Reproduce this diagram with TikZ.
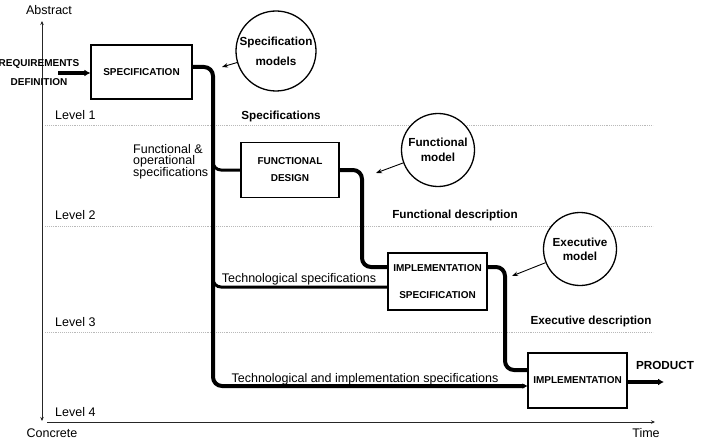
\documentclass[tikz,border=0pt]{standalone}
\usepackage{fontspec}
\setmainfont{Liberation Sans}
\usetikzlibrary{arrows.meta}
\pgfdeclarelayer{grid}
\pgfdeclarelayer{links}
\pgfsetlayers{grid,links,main}
\begin{document}
\begin{tikzpicture}[x=1pt,y=-1pt,
  box/.style={draw, line width=1.3pt, fill=white, inner sep=0pt, align=center,
    font=\bfseries\fontsize{10}{11}\selectfont},
  model/.style={draw, circle, line width=1.3pt, fill=white, inner sep=0pt,
    minimum size=74pt, align=center},
  flow/.style={line width=4pt, rounded corners=9pt},
  branch/.style={line width=3pt, rounded corners=8pt},
  pointer/.style={line width=0.9pt, -{Stealth[length=6pt,width=4.5pt]}},
  levelline/.style={draw=gray!55, line width=0.9pt, densely dotted},
  axisline/.style={line width=1pt, draw=black!85},
  lbl/.style={font=\fontsize{12.5}{14}\selectfont, inner sep=0pt},
  blbl/.style={font=\bfseries\fontsize{11.7}{14}\selectfont, inner sep=0pt},
]
\useasboundingbox (0,0) rectangle (701,441);

% level lines and axes
\begin{pgfonlayer}{grid}
\draw[levelline] (45,125) -- (653,125);
\draw[levelline] (45,226) -- (653,226);
\draw[levelline] (45,332) -- (653,332);
\draw[axisline, {Stealth[length=4pt,width=3.5pt]}-{Stealth[length=4pt,width=3.5pt]}] (42,21) -- (42,421);
\draw[axisline, -{Stealth[length=4pt,width=3.5pt]}] (47,422) -- (655,422);
\end{pgfonlayer}

% axis and level labels
\node[lbl] (abstract) at (49,10) {Abstract};
\node[lbl] (concrete) at (52,433) {Concrete};
\node[lbl] (time) at (646,433) {Time};
\node[lbl, anchor=west] (l1) at (55,115) {Level 1};
\node[lbl, anchor=west] (l2) at (55,215) {Level 2};
\node[lbl, anchor=west] (l3) at (55,322) {Level 3};
\node[lbl, anchor=west] (l4) at (55,412) {Level 4};

% boxes
\node[box, minimum width=101pt, minimum height=54pt] (spec) at (141.5,72) {SPECIFICATION};
\node[box, minimum width=98pt, minimum height=55pt] (fd) at (290,170) {FUNCTIONAL\\[6pt]DESIGN};
\node[box, minimum width=99pt, minimum height=57pt] (isp) at (437.5,281.5) {IMPLEMENTATION\\[16pt]SPECIFICATION};
\node[box, minimum width=99pt, minimum height=55pt] (impl) at (577.5,380.5) {IMPLEMENTATION};

% junction coordinates
\coordinate (j1) at (213,67);
\coordinate (j2) at (213,386);
\coordinate (ja) at (213,150);
\coordinate (jb) at (213,170);
\coordinate (jc) at (213,270);
\coordinate (jd) at (213,287);
\coordinate (k1) at (362,170);
\coordinate (k2) at (362,267);
\coordinate (m1) at (505,267);
\coordinate (m2) at (505,370);
\coordinate (reqstart) at (58,73);
\coordinate (prodend) at (664,382);

% connectors
\begin{pgfonlayer}{links}
\draw[flow, -{Latex[length=6pt,width=7pt]}] (reqstart) -- (spec.west |- reqstart);
\draw[flow, -{Stealth[length=5pt,width=5pt]}] ([yshift=5pt]spec.east) -- (j1) -- (j2) -- (impl.west |- j2);
\draw[branch] (ja) -- (jb) -- (fd.west);
\draw[branch] (jc) -- (jd) -- (isp.west |- jd);
\draw[flow] (fd.east) -- (k1) -- (k2) -- (isp.west |- k2);
\draw[flow] (isp.east |- m1) -- (m1) -- (m2) -- (impl.west |- m2);
\draw[flow, -{Latex[length=6pt,width=7pt]}] (impl.east |- prodend) -- (prodend);
\end{pgfonlayer}

% models
\node[model, minimum size=80pt, font=\bfseries\fontsize{11.7}{20}\selectfont] (cm) at (276,51) {Specification\\models};
\node[model, minimum size=73pt, font=\bfseries\fontsize{11.7}{15}\selectfont] (fm) at (438,150) {Functional\\model};
\node[model, minimum size=73pt, font=\bfseries\fontsize{11.7}{14}\selectfont] (em) at (580,249) {Executive\\model};
\coordinate (cmt) at (222,67);
\coordinate (fmt) at (376,173);
\coordinate (emt) at (512,276);
\draw[pointer] (cm) -- (cmt);
\draw[pointer] (fm) -- (fmt);
\draw[pointer] (em) -- (emt);

% labels
\node[font=\bfseries\fontsize{10}{19}\selectfont, align=center, inner sep=0pt] (req) at (39,72.5) {REQUIREMENTS\\DEFINITION};
\node[blbl] (specs) at (281,116) {Specifications};
\node[blbl] (fdesc) at (455,215) {Functional description};
\node[blbl] (edesc) at (591,321) {Executive description};
\node[blbl] (prod) at (665,365) {PRODUCT};
\node[lbl, anchor=north west, align=left, font=\fontsize{12.5}{11}\selectfont] (fos) at (133,144) {Functional \&\\operational\\specifications};
\node[lbl] (tech) at (299,279) {Technological specifications};
\node[lbl] (techimpl) at (365,379) {Technological and implementation specifications};
\end{tikzpicture}
\end{document}
